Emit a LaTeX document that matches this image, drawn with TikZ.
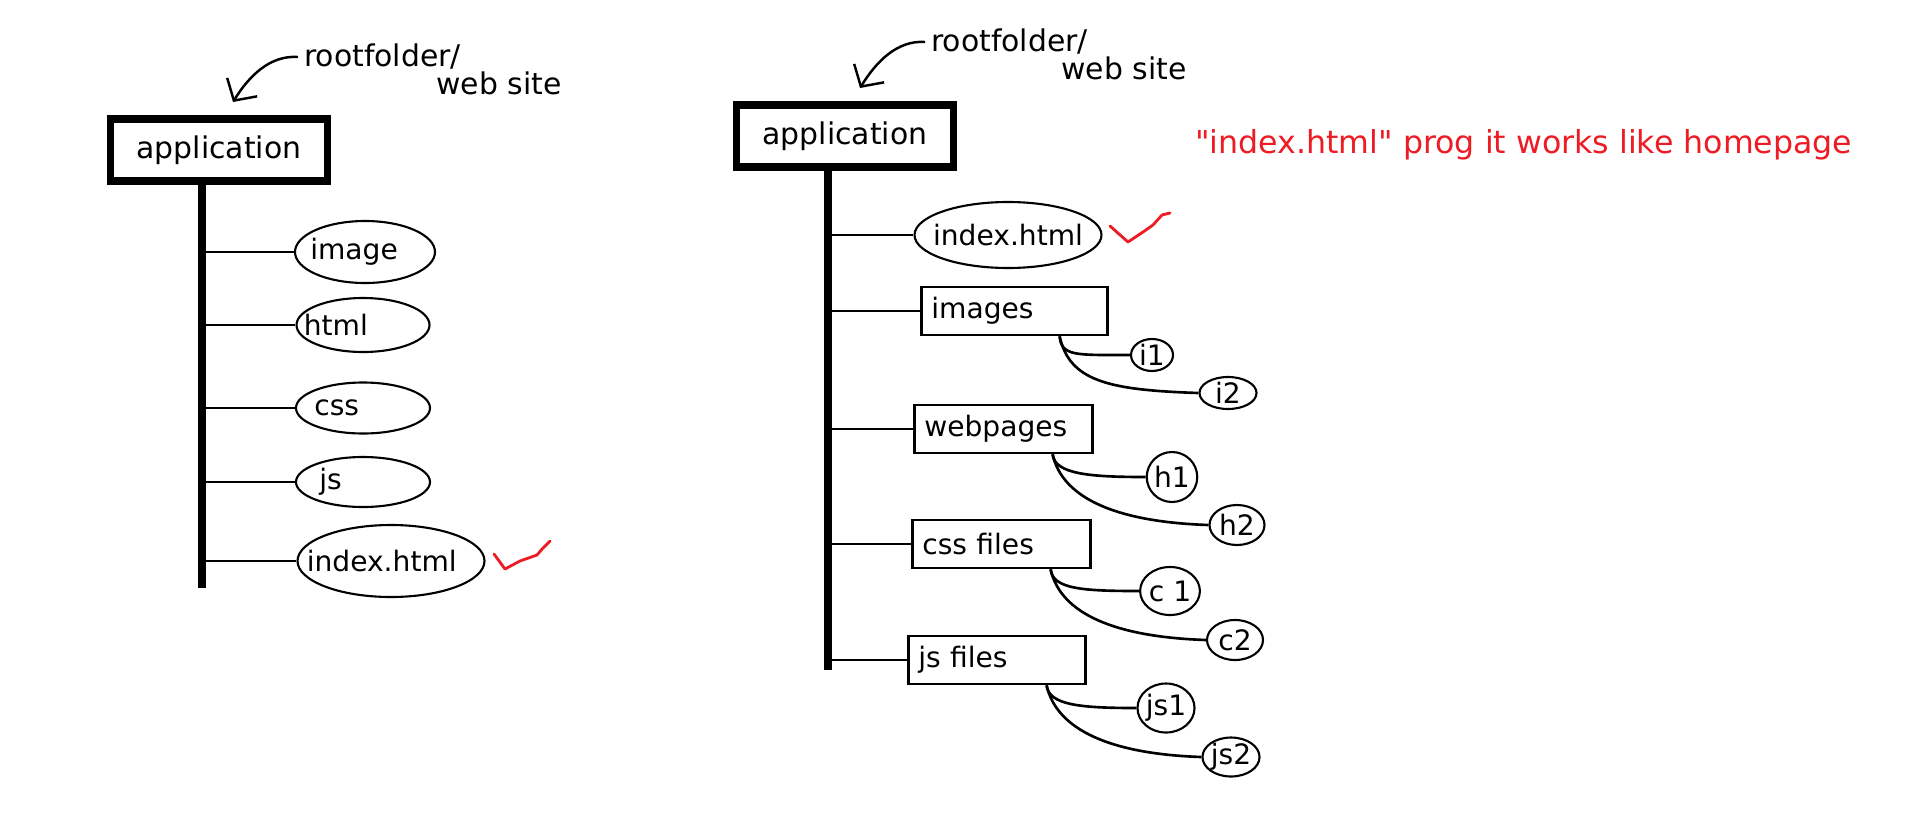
\documentclass[tikz,border=0pt]{standalone}
\usepackage{fontspec}
\setmainfont{DejaVu Sans}
\newfontfamily\notefont{DejaVu Sans}
\usetikzlibrary{shapes.geometric,arrows.meta}
\definecolor{paintred}{RGB}{237,28,36}
\begin{document}
\begin{tikzpicture}[x=0.02cm,y=-0.02cm,font=\fontsize{16}{19}\selectfont,
  root/.style={draw,line width=4pt,minimum width=4.34cm,minimum height=1.24cm,inner sep=0pt,font=\fontsize{17}{20}\selectfont},
  leaf/.style={draw,ellipse,line width=1.2pt,inner sep=0pt},
  dir/.style={draw,line width=1.5pt,anchor=west,align=left,inner xsep=0.2cm,minimum height=0.96cm},
  file/.style={draw,ellipse,line width=1.2pt,inner sep=0pt},
  tag/.style={anchor=west,font=\fontsize{17}{20}\selectfont},
  link/.style={line width=1.5pt},
  trunk/.style={line width=4.2pt},
  arr/.style={-{Straight Barb[length=9pt,width=20pt]},line width=1.4pt},
  tick/.style={paintred,line width=1.6pt,line join=round,line cap=round}]
\useasboundingbox (0,0) rectangle (1912,832);

% left tree
\node[root] (app1) at (219,150) {application};
\node[tag] (rf1) at (298,57) {rootfolder/};
\node[tag] (rf2) at (430,83) {web site};
\coordinate (tip1) at (233,102);
\draw[arr] (rf1.west) .. controls +(-28,-2) and +(16,-26) .. (tip1);
\coordinate (l-top) at ([xshift=-0.34cm]app1.south);
\coordinate (l-end) at (202,588);
\draw[trunk] (l-top) -- (l-top |- l-end);
\foreach \n/\t/\x/\y/\w/\h/\dx in {image/image/365/252/140/62/16,html/html/363/325/133/54/8,
    css/css/363/408/134/51/19,js/js/363/482/134/50/24,index1/index.html/391/561/187/72/10}{
  \node[leaf,minimum width=\w*0.02cm,minimum height=\h*0.02cm] (\n) at (\x,\y) {};
  \node[anchor=west,inner sep=0pt] (\n-t) at ([xshift=\dx*0.02cm]\n.west) {\t};
  \draw[link] (l-end |- \n.west) -- (\n.west);
}
\draw[tick] (494,554) -- (505,569) -- (520,561) -- (537,555) -- (543,548) -- (550,541);

% right tree
\node[root] (app2) at (845,136) {application};
\node[tag] (rf3) at (925,42) {rootfolder/};
\node[tag] (rf4) at (1055,68) {web site};
\coordinate (tip2) at (860,88);
\draw[arr] (rf3.west) .. controls +(-28,-2) and +(16,-26) .. (tip2);
\coordinate (r-top) at ([xshift=-0.34cm]app2.south);
\coordinate (r-end) at (828,670);
\draw[trunk] (r-top) -- (r-top |- r-end);
\node[leaf,minimum width=3.74cm,minimum height=1.32cm] (index2) at (1008,235) {};
\node[inner sep=0pt] (index2-t) at (index2) {index.html};
\draw[link] (r-end |- index2.west) -- (index2.west);
\draw[tick] (1110,226) -- (1128,242) -- (1143,232) -- (1153,225) -- (1162,215) -- (1170,213);
\node[anchor=west,inner sep=0pt,text=paintred,font=\notefont\fontsize{18}{21}\selectfont] (note) at (1195,145)
  {"index.html" prog it works like homepage};
\foreach \d/\t/\x/\y/\tw in {images/images/920/311/3.32,webpages/webpages/913/429/3.16,
    cssf/css files/911/544/3.16,jsf/js files/907/660/3.14}{
  \node[dir,text width=\tw cm] (\d) at (\x,\y) {\t};
  \draw[link] (r-end |- \d.west) -- (\d.west);
}
\foreach \n/\t/\x/\y/\w/\h in {i1/i1/1152/355/42/32,i2/i2/1228/393/57/32,h1/h1/1172/477/49/50,
    h2/h2/1237/525/55/40,c1/c 1/1170/591/47/48,c2/c2/1235/640/56/40,
    js1/js1/1166/708/48/49,js2/js2/1231/757/56/39}{
  \node[file,minimum width=\w*0.02cm,minimum height=\h*0.02cm] (\n) at (\x,\y) {\t};
}
\foreach \d/\a/\b/\dx in {images/i1/i2/49,webpages/h1/h2/41,cssf/c1/c2/41,jsf/js1/js2/40}{
  \draw[link] ([xshift=-\dx*0.02cm]\d.south east) .. controls +(2,20) and +(-55,0) .. (\a.west);
  \draw[link] ([xshift=-\dx*0.02cm]\d.south east) .. controls +(10,45) and +(-90,-3) .. (\b.west);
}
\end{tikzpicture}
\end{document}
